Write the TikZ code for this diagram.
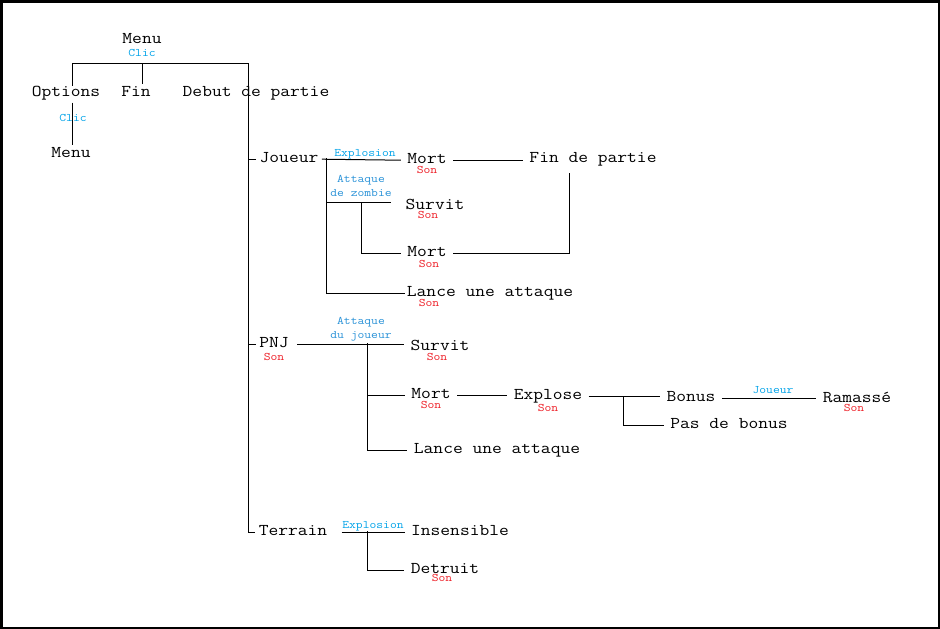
\documentclass[tikz,border=0pt]{standalone}
\usepackage{fontspec}
\newfontfamily\mono[FakeStretch=1.15]{Latin Modern Mono}
\definecolor{evtblue}{RGB}{0,162,232}
\definecolor{atkblue}{RGB}{40,145,215}
\definecolor{sonred}{RGB}{237,28,36}

\begin{document}
\begin{tikzpicture}[
  x=1pt, y=-1pt,
  line width=1pt,
  etat/.style={font=\fontsize{16.5}{18}\mono, anchor=base, inner xsep=6pt, inner ysep=0pt,
               text height=0.66em, text depth=0.1em},
  tick/.style={etat, inner xsep=3pt},
  evt/.style={font=\fontsize{11.5}{13}\mono, anchor=base, inner sep=0, text=evtblue},
  atk/.style={evt, text=atkblue},
  son/.style={evt, text=sonred}
  ]

  \useasboundingbox (0,0) rectangle (940,629);
  \draw[line width=2.5pt] (1.25,1.25) rectangle (938.75,627.75);

  % menu principal
  \node [etat] (menu) at (142,43) {Menu};
  \node [evt] (clicA) at (142,56) {Clic};
  \node [etat] (options) at (66,96) {Options};
  \node [etat] (fin) at (136,96) {Fin};
  \node [etat] (debut) at (256,96) {Debut de partie};
  \node [evt] (clicB) at (73,121) {Clic};
  \node [etat] (menuB) at (71,157) {Menu};

  \coordinate (topL) at (72,63);
  \coordinate (topM) at (142,63);
  \coordinate (topR) at (248,63);
  \draw ([yshift=3pt]options.north -| topL) -- (topL) -- (topR) -- ([yshift=3pt]debut.north -| topR);
  \draw (topM) -- ([yshift=5pt]fin.north -| topM);
  \draw ([yshift=-5pt]options.south -| topL) -- ([yshift=5pt]menuB.north -| topL);

  % joueur
  \node [tick] (joueur) at (289,162) {Joueur};
  \node [evt] (explA) at (365,156) {Explosion};
  \node [etat] (mortA) at (427,163) {Mort};
  \node [son] (sonA) at (427,173) {Son};
  \node [etat] (finp) at (593,162) {Fin de partie};
  \node [atk] (atkA1) at (361,182) {Attaque};
  \node [atk] (atkA2) at (361,196) {de zombie};
  \node [etat] (survitA) at (435,209) {Survit};
  \node [son] (sonB) at (428,218) {Son};
  \node [etat] (mortB) at (427,256) {Mort};
  \node [son] (sonC) at (429,267) {Son};
  \node [etat] (lanceA) at (490,296) {Lance une attaque};
  \node [son] (sonD) at (429,306) {Son};

  \coordinate (jJ) at (326,158);
  \coordinate (jZ) at (361,202);
  \coordinate (jF) at (569,173);
  \draw (joueur.west) -- (joueur.west -| topR);
  \draw (joueur.east) -- (mortA.west);
  \draw (jJ) |- ([xshift=5pt]lanceA.west);
  \draw (jJ |- jZ) -- ([xshift=-8pt]jZ -| survitA.west);
  \draw (jZ) |- (mortB.west);
  \draw (mortA.east) -- (mortA.east -| finp.west);
  \draw (mortB.east) -| (jF);

  % pnj
  \node [tick] (pnj) at (274,347) {PNJ};
  \node [son] (sonE) at (274,360) {Son};
  \node [atk] (atkB1) at (361,324) {Attaque};
  \node [atk] (atkB2) at (361,338) {du joueur};
  \node [etat] (survitB) at (440,350) {Survit};
  \node [son] (sonF) at (437,360) {Son};
  \node [etat] (mortC) at (431,398) {Mort};
  \node [son] (sonG) at (431,408) {Son};
  \node [etat] (explose) at (548,399) {Explose};
  \node [son] (sonH) at (548,411) {Son};
  \node [etat] (lanceB) at (497,453) {Lance une attaque};
  \node [etat] (bonus) at (691,401) {Bonus};
  \node [evt] (joueurB) at (773,393) {Joueur};
  \node [etat] (ramasse) at (857,402) {Ramassé};
  \node [son] (sonI) at (854,411) {Son};
  \node [etat] (pasbonus) at (729,428) {Pas de bonus};

  \coordinate (jP) at (367,343);
  \coordinate (jE) at (623,396);
  \draw (pnj.west) -- (pnj.west -| topR);
  \draw ([xshift=5pt]pnj.east) -- (pnj.east -| survitB.west);
  \draw (jP) |- (lanceB.west);
  \draw (jP |- mortC.west) -- (mortC.west);
  \draw (mortC.east) -- (mortC.east -| explose.west);
  \draw (explose.east) -- (explose.east -| bonus.west);
  \draw (jE |- explose.east) |- (pasbonus.west);
  \draw (bonus.east) -- (bonus.east -| ramasse.west);

  % terrain
  \node [tick] (terrain) at (293,535) {Terrain};
  \node [evt] (explB) at (373,528) {Explosion};
  \node [etat] (insens) at (460,535) {Insensible};
  \node [etat] (detruit) at (445,573) {Detruit};
  \node [son] (sonJ) at (442,581) {Son};

  \coordinate (jT) at (367,531);
  \draw ([yshift=3pt]debut.south -| topR) |- (terrain.west);
  \draw ([xshift=11pt]terrain.east) -- (terrain.east -| insens.west);
  \draw (jT) |- (detruit.west);

\end{tikzpicture}
\end{document}
